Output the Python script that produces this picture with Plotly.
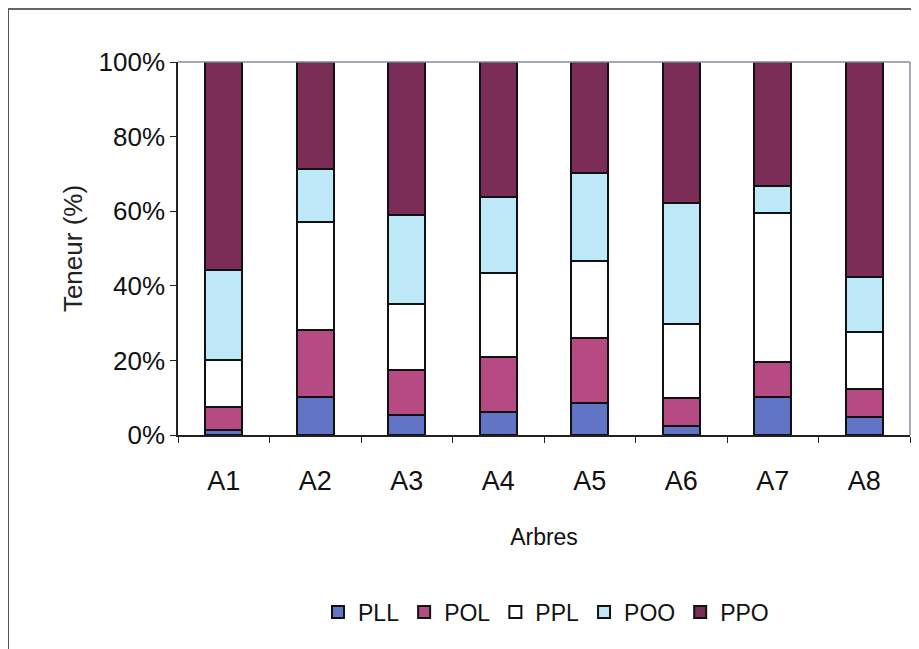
import plotly.graph_objects as go

categories = ["A1", "A2", "A3", "A4", "A5", "A6", "A7", "A8"]
PLL = [1.3, 10.3, 5.4, 6.1, 8.5, 2.5, 10.3, 4.9]
POL = [6.3, 17.9, 12.0, 14.9, 17.6, 7.5, 9.4, 7.4]
PPL = [12.5, 29.0, 17.6, 22.4, 20.5, 19.7, 39.7, 15.4]
POO = [24.1, 14.2, 24.0, 20.5, 23.6, 32.4, 7.4, 14.6]
PPO = [55.8, 28.6, 41.0, 36.1, 29.8, 37.9, 33.2, 57.7]
y_ticks = [0, 20, 40, 60, 80, 100]
y_tick_labels = ["0%", "20%", "40%", "60%", "80%", "100%"]

series = [
    ("PLL", PLL, "#6274c6"),
    ("POL", POL, "#b64a82"),
    ("PPL", PPL, "#ffffff"),
    ("POO", POO, "#bde8f7"),
    ("PPO", PPO, "#7b2d57"),
]

FONT = "Liberation Sans, Arial, sans-serif"

fig = go.Figure()
for name, vals, col in series:
    fig.add_trace(go.Bar(
        x=categories, y=vals, name=name,
        marker=dict(color=col, line=dict(color="#111111", width=2)),
    ))

# figure is placed at an 8px page offset (default body margin)
W, H = 911, 641
L, R, T, B = 170, 9, 54, 214
pw, ph = W - L - R, H - T - B

def px(x):
    return (x - L) / pw

def py(y):
    return (H - B - y) / ph

fig.update_layout(
    width=W, height=H,
    barmode="stack", bargap=0.6,
    margin=dict(l=L, r=R, t=T, b=B, autoexpand=False),
    paper_bgcolor="white", plot_bgcolor="white",
    showlegend=True,
    legend=dict(orientation="h", x=px(538), xanchor="center", y=py(604), yanchor="middle",
                font=dict(family=FONT, size=23, color="#111111"),
                itemwidth=30, traceorder="normal", itemclick=False,
                tracegroupgap=0),
    xaxis=dict(
        showline=True, linecolor="#222222", linewidth=1.5,
        ticks="outside", ticklen=6, tickcolor="#222222", tickson="boundaries",
        tickfont=dict(family=FONT, size=27, color="#111111"),
        ticklabelstandoff=21,
        title=dict(text="Arbres", font=dict(family=FONT, size=23, color="#111111"), standoff=34),
        showgrid=False,
    ),
    yaxis=dict(
        range=[0, 100], tickvals=y_ticks, ticktext=y_tick_labels,
        showline=True, linecolor="#222222", linewidth=1.5,
        ticks="outside", ticklen=6, tickcolor="#222222",
        tickfont=dict(family=FONT, size=26, color="#111111"),
        title=dict(text="Teneur (%)", font=dict(family=FONT, size=26, color="#222222"), standoff=8),
        showgrid=False,
    ),
    shapes=[
        dict(type="line", xref="paper", yref="paper", x0=0, x1=1, y0=1, y1=1,
             line=dict(color="#8a8aa0", width=1.5)),
        dict(type="line", xref="paper", yref="paper", x0=1, x1=1, y0=0, y1=1,
             line=dict(color="#8a8aa0", width=1.5)),
        dict(type="line", xref="paper", yref="paper", x0=px(0), x1=px(908), y0=py(1), y1=py(1),
             line=dict(color="#333333", width=1.5)),
        dict(type="line", xref="paper", yref="paper", x0=px(0.5), x1=px(0.5), y0=py(1), y1=py(641),
             line=dict(color="#555555", width=1)),
        dict(type="line", xref="paper", yref="paper", x0=px(908), x1=px(908), y0=py(1), y1=py(641),
             line=dict(color="#888888", width=1)),
    ],
)

fig.write_html("out.html")
